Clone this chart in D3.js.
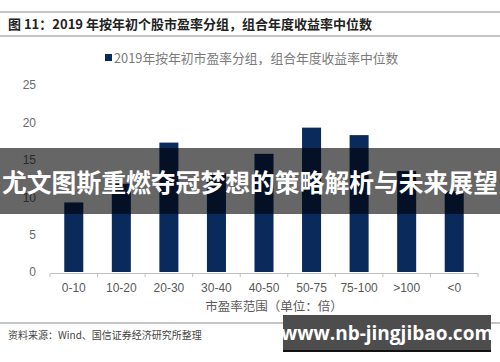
<!DOCTYPE html>
<html><head><meta charset="utf-8">
<script src="https://cdn.jsdelivr.net/npm/d3@7/dist/d3.min.js"></script>
<style>body{margin:0;background:#fff}svg{display:block}</style>
</head><body>
<svg id="c" width="500" height="362"></svg>
<script>
const categories = ["0-10","10-20","20-30","30-40","40-50","50-75","75-100",">100","<0"];
const values = [9.3, 11.8, 17.3, 13.2, 15.8, 19.3, 18.3, 13.5, 10.8];
const yTicks = [0,5,10,15,20,25];
const titleText = "图 11：2019 年按年初个股市盈率分组，组合年度收益率中位数";
const legendText = "2019年按年初市盈率分组，组合年度收益率中位数";
const xAxisTitle = "市盈率范围（单位：倍）";
const sourceText = "资料来源：Wind、国信证券经济研究所整理";
const bannerText = "尤文图斯重燃夺冠梦想的策略解析与未来展望";
const watermarkText = "www.nb-jingjibao.com";

const svg = d3.select("#c");
const font = "'Noto Sans CJK SC','Noto Sans',sans-serif";
const navy = "#0a2a5c";

// header lines and title
svg.append("line").attr("x1",0).attr("x2",500).attr("y1",12).attr("y2",12).attr("stroke","#8c8c8c").attr("stroke-width",1);
svg.append("line").attr("x1",0).attr("x2",500).attr("y1",36).attr("y2",36).attr("stroke","#8c8c8c").attr("stroke-width",1);
svg.append("text").attr("x",8).attr("y",29).attr("font-family",font).attr("font-size",13).attr("font-weight","bold").attr("fill","#222").text(titleText);

// legend
svg.append("rect").attr("x",105).attr("y",54).attr("width",7).attr("height",7).attr("fill",navy);
svg.append("text").attr("x",114).attr("y",63).attr("font-family",font).attr("font-size",12.8).attr("fill","#7a7a7a").text(legendText);

const x = d3.scaleBand().domain(categories).range([50,478]).paddingInner(0.6).paddingOuter(0.3);
const y = d3.scaleLinear().domain([0,25]).range([272,85]);

// bars
svg.append("g").selectAll("rect").data(values).join("rect")
  .attr("x",(d,i)=>x(categories[i])).attr("width",x.bandwidth())
  .attr("y",d=>y(d)).attr("height",d=>y(0)-y(d)).attr("fill",navy);

// y axis labels
const ya = svg.append("g").attr("transform","translate(36,0)").call(d3.axisLeft(y).tickValues(yTicks).tickSize(0).tickPadding(0));
ya.select(".domain").remove();
ya.selectAll("text").attr("font-family","'Liberation Sans',Arial,sans-serif").attr("font-size",12).attr("fill","#6a6a6a");

// x axis
const xb = d3.scaleBand().domain(categories).range([50,478]);
const xa = svg.append("g").attr("transform","translate(0,273)").call(d3.axisBottom(xb).tickSize(0).tickPadding(10));
xa.select(".domain").attr("stroke","#bfbfbf");
xa.selectAll("text").attr("font-family","'Liberation Sans',Arial,sans-serif").attr("font-size",12).attr("fill","#595959");
const bounds = categories.map(c=>xb(c)).concat([478]);
svg.append("g").selectAll("line").data(bounds).join("line")
  .attr("x1",d=>d).attr("x2",d=>d).attr("y1",273).attr("y2",277).attr("stroke","#bfbfbf");

svg.append("text").attr("x",274).attr("y",311).attr("text-anchor","middle").attr("font-family",font).attr("font-size",12.5).attr("fill","#595959").text(xAxisTitle);

// source
svg.append("line").attr("x1",0).attr("x2",500).attr("y1",323).attr("y2",323).attr("stroke","#8c8c8c");
svg.append("text").attr("x",8).attr("y",339).attr("font-family",font).attr("font-size",10).attr("fill","#444").text(sourceText);

// banner overlay
svg.append("rect").attr("x",0).attr("y",148).attr("width",500).attr("height",66).attr("fill","rgba(0,0,0,0.6)");
svg.append("text").attr("x",250).attr("y",192).attr("text-anchor","middle").attr("font-family",font).attr("font-size",24.8).attr("font-weight","bold").attr("fill","#fff").text(bannerText);

// watermark
svg.append("rect").attr("x",283).attr("y",315).attr("width",208).attr("height",36).attr("fill","#4d4d4d");
svg.append("rect").attr("x",283).attr("y",350).attr("width",208).attr("height",2).attr("fill","#111");
svg.append("text").attr("x",387).attr("y",340).attr("text-anchor","middle").attr("font-family","'Open Sans','DejaVu Sans',sans-serif").attr("font-size",19).attr("font-weight","bold").attr("fill","#fff").text(watermarkText);
</script>
</body></html>
